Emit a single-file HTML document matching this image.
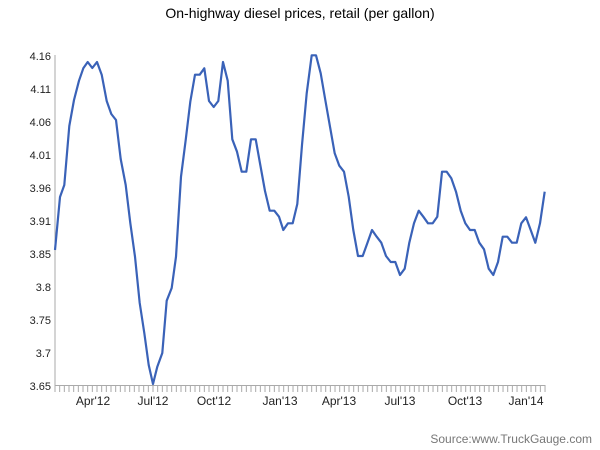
<!DOCTYPE html>
<html><head><style>
html,body{margin:0;padding:0;background:#fff;}
svg{display:block;font-family:"Liberation Sans",sans-serif;}
</style></head><body>
<svg width="600" height="450" viewBox="0 0 600 450" xmlns="http://www.w3.org/2000/svg">
<text x="300" y="18" text-anchor="middle" font-size="14" fill="#000">On-highway diesel prices, retail (per gallon)</text>
<g font-size="11" fill="#222" text-anchor="end">
<text x="51" y="60">4.16</text>
<text x="51" y="93">4.11</text>
<text x="51" y="126">4.06</text>
<text x="51" y="159">4.01</text>
<text x="51" y="192">3.96</text>
<text x="51" y="225">3.91</text>
<text x="51" y="258">3.85</text>
<text x="51" y="291">3.8</text>
<text x="51" y="324">3.75</text>
<text x="51" y="357">3.7</text>
<text x="51" y="390">3.65</text>
</g>
<line x1="55" y1="55" x2="55" y2="385" stroke="#aaa" stroke-width="1"/>
<line x1="55" y1="385.5" x2="545" y2="385.5" stroke="#aaa" stroke-width="1"/>
<line x1="54.5" y1="388.5" x2="546" y2="388.5" stroke="#aaa" stroke-width="7" stroke-dasharray="1 3.667"/>
<g font-size="12" fill="#222" text-anchor="middle">
<text x="93" y="405">Apr'12</text>
<text x="153" y="405">Jul'12</text>
<text x="214" y="405">Oct'12</text>
<text x="280" y="405">Jan'13</text>
<text x="339" y="405">Apr'13</text>
<text x="400" y="405">Jul'13</text>
<text x="465" y="405">Oct'13</text>
<text x="526" y="405">Jan'14</text>
</g>
<polyline fill="none" stroke="#3a62b8" stroke-width="2.2" stroke-linejoin="round" points="55,250 60,197 64.3,185 69.3,126 74,100 79,80.7 83.3,68.3 87.7,62 92.3,68 97,62 101.7,74.7 106.7,101 111.3,114 116,120 120.7,159 125.7,185 130.3,223 135,256.7 139.7,303 144.3,333 148.7,365 153,384 157.3,366.7 162.3,353 166.7,300.7 171.7,288 176,256.7 181,176.7 185.7,140 190.3,101.7 195,74.7 199.7,74.7 204.3,68.3 209,101 213.7,107 218.3,101 223,62 227.7,80.7 232.3,139.3 237,151.7 241.7,171.7 246.3,171.7 251,139.3 255.7,139.3 260.3,165 265,191 269.7,210.7 274.3,210.7 279,216.7 283.3,230 288,223.3 292.7,223.3 297.3,204 302,145 306.7,93.3 311.7,55.3 316,55.3 320.7,73.3 325.3,100 330,126.7 334.7,153.3 339.3,165.7 344,171.7 348.7,196.7 353.3,230 358,256 362.7,256 367.3,243.3 372,230 376.7,236.7 381.3,242.7 386,256 390.7,262 395.3,262 400,275 404.7,268.7 409.3,242.7 414,223.3 418.7,210.7 423.3,216.7 428,223.3 432.7,223.3 437.3,216.7 442,171.7 446.7,171.7 451.3,178.3 456,191.7 460.7,210.7 465.3,223.3 470,230 474.7,230 479.3,242.7 484,249.3 488.7,268.7 493.3,275 498,262 502.7,236.7 507.3,236.7 512,242.7 516.7,242.7 521.3,223.3 526,217.3 530.7,230 535.3,242.7 540,223.3 544.7,191.7"/>
<text x="592" y="443" text-anchor="end" font-size="12" fill="#777">Source:www.TruckGauge.com</text>
</svg>
</body></html>
